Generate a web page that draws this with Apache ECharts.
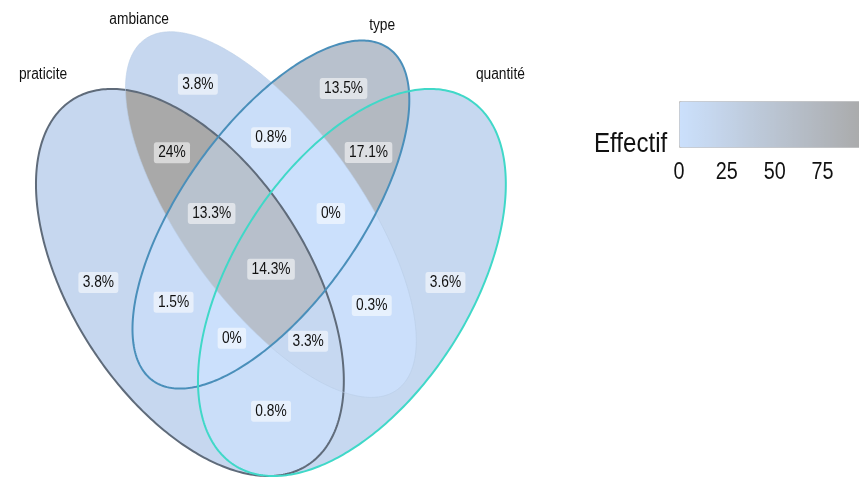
<!DOCTYPE html>
<html><head><meta charset="utf-8">
<script src="https://cdn.jsdelivr.net/npm/echarts@6/dist/echarts.min.js"></script>
<style>html,body{margin:0;padding:0;background:#fff}#c{width:859px;height:478px}</style>
</head><body><div id="c"></div>
<script>
// ---------- data ----------
const setNames = ['praticite', 'ambiance', 'type', 'quantité'];
const regionMembers = [[0],[1],[2],[3],[0,1],[0,2],[0,3],[1,2],[1,3],[2,3],[0,1,2],[0,1,3],[0,2,3],[1,2,3],[0,1,2,3]];
const regionCounts  = [15, 15, 53, 14, 94, 6, 3, 3, 1, 67, 52, 13, 0, 0, 56];
const legendTicks = [0, 25, 50, 75];
const legendTitle = 'Effectif';

// ---------- layout (ggVennDiagram 4-set ellipses: cx, cy, a, b, rotation deg) ----------
const ELLIPSES = [[0.35,0.47,0.35,0.20,135],[0.50,0.57,0.35,0.15,135],[0.50,0.57,0.33,0.15,45],[0.65,0.47,0.35,0.20,45]];
const SET_LABEL_POS = [[0.078,0.776],[0.256,0.857],[0.706,0.848],[0.925,0.776]];
const EDGE_COLORS = ['#5f6b7a','rgba(185,205,230,0.6)','#4a8fba','#40d8c8'];
const EDGE_WIDTHS = [2, 1, 2, 2];
const LOW = '#cbe0fc', HIGH = '#a9a9a9';
const FONT = "'Liberation Sans',Arial,sans-serif";
const SX = 0.86; // horizontal squeeze of the reference text

function ellipsePts(e, n) {
  const [cx, cy, a, b, deg] = e, p = deg * Math.PI / 180, c = Math.cos(p), s = Math.sin(p);
  const pts = [];
  for (let i = 0; i < n; i++) {
    const t = 2 * Math.PI * i / n, x = a * Math.cos(t), y = b * Math.sin(t);
    pts.push([cx + x * c - y * s, cy + x * s + y * c]);
  }
  return pts;
}
function insideE(e, x, y) {
  const [cx, cy, a, b, deg] = e, p = deg * Math.PI / 180, c = Math.cos(p), s = Math.sin(p);
  const dx = x - cx, dy = y - cy, u = dx * c + dy * s, v = -dx * s + dy * c;
  return (u * u) / (a * a) + (v * v) / (b * b) <= 1;
}
function clip(subject, cp) {
  let out = subject;
  for (let i = 0; i < cp.length && out.length; i++) {
    const A = cp[i], B = cp[(i + 1) % cp.length], inp = out; out = [];
    const side = q => (B[0] - A[0]) * (q[1] - A[1]) - (B[1] - A[1]) * (q[0] - A[0]);
    for (let j = 0; j < inp.length; j++) {
      const P = inp[j], Q = inp[(j + 1) % inp.length], sp = side(P), sq = side(Q);
      const I = () => { const t = sp / (sp - sq); return [P[0] + (Q[0] - P[0]) * t, P[1] + (Q[1] - P[1]) * t]; };
      if (sp >= 0) { out.push(P); if (sq < 0) out.push(I()); }
      else if (sq >= 0) out.push(I());
    }
  }
  return out;
}
const ellPolys = ELLIPSES.map(e => ellipsePts(e, 360));
const regionPolys = regionMembers.map(m => {
  let poly = ellPolys[m[0]];
  for (let k = 1; k < m.length; k++) poly = clip(poly, ellPolys[m[k]]);
  return poly;
});
// label anchor = interior point on surface (mid-height scan line, widest run)
const maskIdx = {};
regionMembers.forEach((m, i) => { maskIdx[m.reduce((s, k) => s | (1 << k), 0)] = i; });
function regionAt(x, y) {
  let mask = 0;
  ELLIPSES.forEach((e, k) => { if (insideE(e, x, y)) mask |= (1 << k); });
  return mask ? maskIdx[mask] : undefined;
}
const env = regionMembers.map(() => [Infinity, -Infinity]);
for (let x = 0; x <= 1; x += 0.001) for (let y = 0.1; y <= 0.9; y += 0.001) {
  const r = regionAt(x, y); if (r === undefined) continue;
  if (y < env[r][0]) env[r][0] = y; if (y > env[r][1]) env[r][1] = y;
}
const anchors = env.map((en, r) => {
  const y = (en[0] + en[1]) / 2;
  let bestLen = -1, bestMid = 0, start = null;
  for (let x = 0; x <= 1.0005; x += 0.0005) {
    const inR = x <= 1 && regionAt(x, y) === r;
    if (inR && start === null) start = x;
    if (!inR && start !== null) {
      if (x - start > bestLen) { bestLen = x - start; bestMid = (start + x) / 2; }
      start = null;
    }
  }
  return [bestMid, y, r];
});
const total = regionCounts.reduce((s, v) => s + v, 0);
const pct = c => (Math.round(c / total * 1000) / 10) + '%';
const regionLabels = regionCounts.map(pct);
const maxCount = Math.max(...regionCounts);

const chart = echarts.init(document.getElementById('c'), null, {renderer: 'canvas'});
chart.setOption({
  animation: false,
  grid: [
    {left: 0.9, width: 540, top: 24.45, height: 441.35},
    {left: 679, width: 187, top: 146, height: 1}
  ],
  xAxis: [
    {gridIndex: 0, type: 'value', min: 0, max: 1, show: false},
    {gridIndex: 1, type: 'value', min: 0, max: maxCount, show: false}
  ],
  yAxis: [
    {gridIndex: 0, type: 'value', min: 0.2, max: 0.85, show: false},
    {gridIndex: 1, type: 'value', min: 0, max: 1, show: false}
  ],
  visualMap: {
    type: 'continuous', min: 0, max: maxCount, dimension: 1, seriesIndex: 0,
    inRange: {color: [LOW, HIGH]}, orient: 'horizontal', left: 679, top: 101,
    itemWidth: 46, itemHeight: 187, calculable: false, hoverLink: false,
    padding: 0, borderColor: '#c4c4c4', borderWidth: 1, text: null
  },
  graphic: [{type: 'text', x: 594, y: 144, scaleX: SX,
    style: {text: legendTitle, font: '28px ' + FONT, fill: '#111', align: 'left', verticalAlign: 'middle'}}],
  series: [
    {
      type: 'custom', coordinateSystem: 'cartesian2d', xAxisIndex: 0, yAxisIndex: 0, silent: true, z: 2, clip: false,
      data: regionMembers.map((m, i) => [i, regionCounts[i]]),
      renderItem: (params, api) => {
        const i = api.value(0);
        return {type: 'polygon', z2: regionMembers[i].length,
          shape: {points: regionPolys[i].map(p => api.coord(p))},
          style: {fill: api.visual('color')}};
      }
    },
    {
      type: 'custom', coordinateSystem: 'cartesian2d', xAxisIndex: 0, yAxisIndex: 0, silent: true, z: 3, clip: false,
      data: ELLIPSES.map((e, i) => [i]),
      renderItem: (params, api) => {
        const i = api.value(0);
        return {type: 'polygon', shape: {points: ellPolys[i].map(p => api.coord(p))},
          style: {fill: 'none', stroke: EDGE_COLORS[i], lineWidth: EDGE_WIDTHS[i]}};
      }
    },
    {
      type: 'custom', coordinateSystem: 'cartesian2d', xAxisIndex: 0, yAxisIndex: 0, silent: true, z: 4, clip: false,
      data: anchors,
      renderItem: (params, api) => {
        const p = api.coord([api.value(0), api.value(1)]);
        return {type: 'text', x: p[0], y: p[1], scaleX: SX,
          style: {text: regionLabels[api.value(2)], x: 0, y: 0, font: '16px ' + FONT, fill: '#111',
            align: 'center', verticalAlign: 'middle', backgroundColor: 'rgba(255,255,255,0.55)',
            padding: [3, 5, 2, 5], borderRadius: 3}};
      }
    },
    {
      type: 'custom', coordinateSystem: 'cartesian2d', xAxisIndex: 0, yAxisIndex: 0, silent: true, z: 4, clip: false,
      data: SET_LABEL_POS.map((p, i) => [p[0], p[1], i]),
      renderItem: (params, api) => {
        const p = api.coord([api.value(0), api.value(1)]);
        return {type: 'text', x: p[0], y: p[1], scaleX: SX,
          style: {text: setNames[api.value(2)], x: 0, y: 0, font: '16px ' + FONT, fill: '#111',
            align: 'center', verticalAlign: 'middle'}};
      }
    },
    {
      type: 'custom', coordinateSystem: 'cartesian2d', xAxisIndex: 1, yAxisIndex: 1, silent: true, z: 4, clip: false,
      data: legendTicks.map(v => [v]),
      renderItem: (params, api) => {
        const p = api.coord([api.value(0), 0]);
        return {type: 'text', x: p[0], y: 173, scaleX: SX,
          style: {text: String(api.value(0)), x: 0, y: 0, font: '23px ' + FONT, fill: '#111',
            align: 'center', verticalAlign: 'middle'}};
      }
    }
  ]
});
</script></body></html>
